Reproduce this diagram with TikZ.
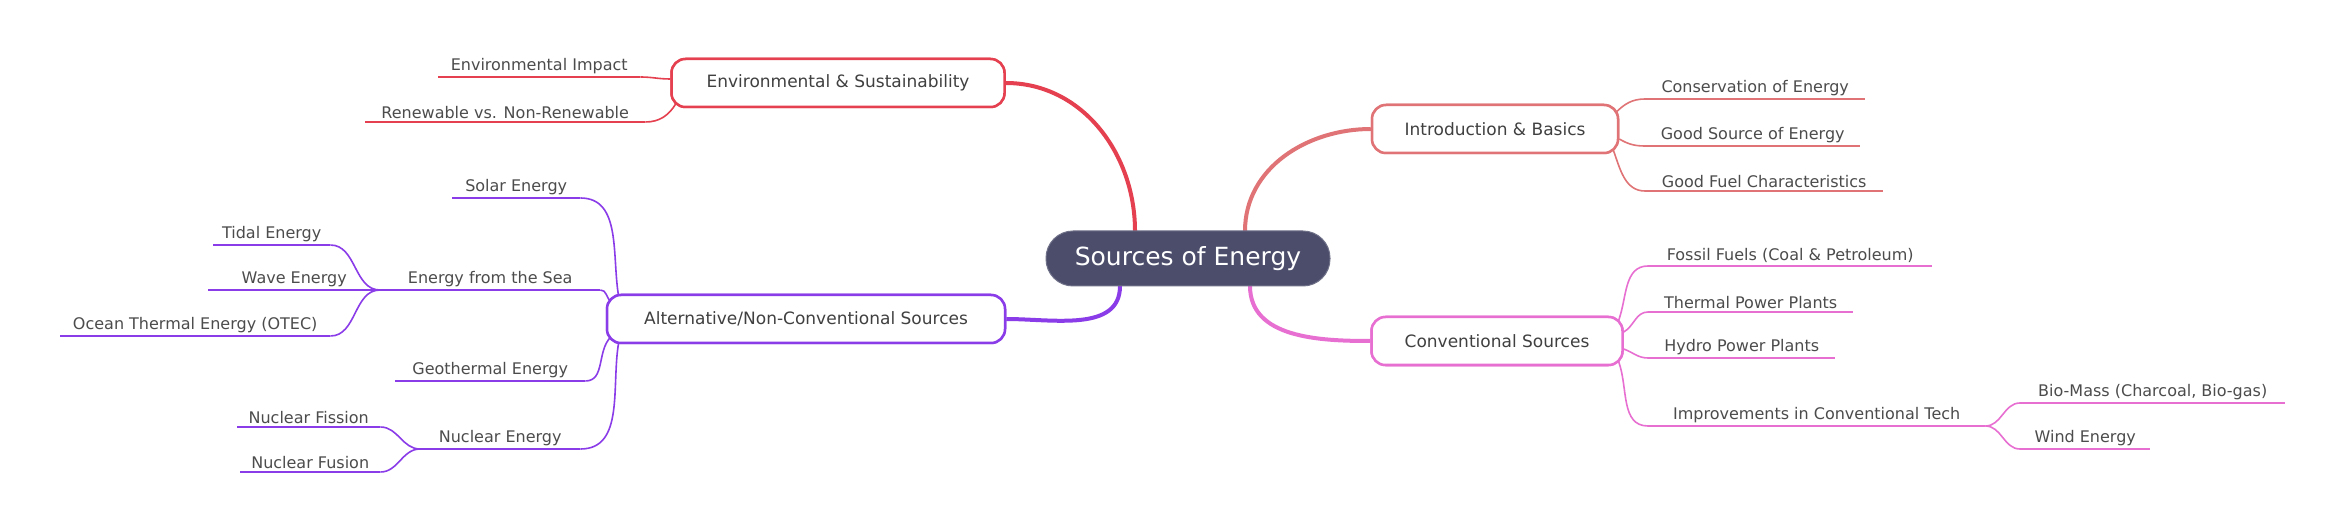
\documentclass[tikz,border=0pt]{standalone}
\usepackage{fontspec}
\setmainfont{DejaVu Sans}
\begin{document}
\begin{tikzpicture}[x=1pt,y=1pt,
  leaf/.style={minimum width=#1, inner xsep=0pt, inner ysep=3pt, anchor=south west, font=\fontsize{16}{18}\selectfont, text=black!70},
  box/.style={draw=#1, line width=2.5pt, rounded corners=14pt, fill=white, minimum height=48pt, font=\fontsize{17}{19}\selectfont, text=black!75},
  br/.style={draw=#1, line width=4pt},
  lf/.style={draw=#1, line width=1.6pt}]
\definecolor{cenv}{HTML}{E5404F}
\definecolor{cintro}{HTML}{E07375}
\definecolor{cconv}{HTML}{E86FD2}
\definecolor{calt}{HTML}{8A3CE8}
\definecolor{croot}{HTML}{4B4D6B}
\fill[white] (0,0) rectangle (2344,517);
\useasboundingbox (0,0) rectangle (2344,517);
% coordinates on root
\coordinate (rEnv) at (1135,286);
\coordinate (rIntro) at (1245,286);
\coordinate (rConv) at (1250,231);
\coordinate (rAlt) at (1120,231);
% branch boxes
\node[box=cenv, minimum width=333pt] (env) at (838,434) {Environmental \& Sustainability};
\node[box=cintro, minimum width=246pt] (intro) at (1495,388) {Introduction \& Basics};
\node[box=cconv, minimum width=251pt] (conv) at (1497,176) {Conventional Sources};
\node[box=calt, minimum width=398pt] (alt) at (806,198) {Alternative/Non-Conventional Sources};
% leaves
\node[leaf=202pt] (ei) at (438,440) {Environmental Impact};
\node[leaf=280pt] (rn) at (365,395) {Renewable vs. Non-Renewable};
\node[leaf=220pt] (ce) at (1645,418) {Conservation of Energy};
\node[leaf=215pt] (gs) at (1645,371) {Good Source of Energy};
\node[leaf=238pt] (gf) at (1645,326) {Good Fuel Characteristics};
\node[leaf=284pt] (ff) at (1648,251) {Fossil Fuels (Coal \& Petroleum)};
\node[leaf=205pt] (tp) at (1648,205) {Thermal Power Plants};
\node[leaf=187pt] (hp) at (1648,159) {Hydro Power Plants};
\node[leaf=337pt] (im) at (1648,91) {Improvements in Conventional Tech};
\node[leaf=265pt] (bm) at (2020,114) {Bio-Mass (Charcoal, Bio-gas)};
\node[leaf=130pt] (we) at (2020,68) {Wind Energy};
\node[leaf=128pt] (so) at (452,319) {Solar Energy};
\node[leaf=220pt] (se) at (380,227) {Energy from the Sea};
\node[leaf=117pt] (ti) at (213,272) {Tidal Energy};
\node[leaf=172pt] (wa) at (208,227) {Wave Energy};
\node[leaf=270pt] (ot) at (60,181) {Ocean Thermal Energy (OTEC)};
\node[leaf=190pt] (ge) at (395,136) {Geothermal Energy};
\node[leaf=160pt] (nu) at (420,68) {Nuclear Energy};
\node[leaf=143pt] (fi) at (237,90) {Nuclear Fission};
\node[leaf=140pt] (fu) at (240,45) {Nuclear Fusion};
% underlines
\foreach \n in {ei,rn}{\draw[lf=cenv] (\n.south west) -- (\n.south east);}
\foreach \n in {ce,gs,gf}{\draw[lf=cintro] (\n.south west) -- (\n.south east);}
\foreach \n in {ff,tp,hp,im,bm,we}{\draw[lf=cconv] (\n.south west) -- (\n.south east);}
\foreach \n in {so,se,ti,wa,ot,ge,nu,fi,fu}{\draw[lf=calt] (\n.south west) -- (\n.south east);}
% leaf connectors
\draw[lf=cenv] (ei.south east) to[out=0,in=180] ([yshift=4pt]env.west);
\draw[lf=cenv] (rn.south east) to[out=0,in=-120] ([xshift=6pt,yshift=-20pt]env.west);
\draw[lf=cintro] ([xshift=-4pt,yshift=16pt]intro.east) to[out=45,in=180] (ce.south west);
\draw[lf=cintro] ([yshift=-10pt]intro.east) to[out=-30,in=180] (gs.south west);
\draw[lf=cintro] ([xshift=-6pt,yshift=-21pt]intro.east) to[out=-70,in=180] (gf.south west);
\draw[lf=cconv] ([xshift=-5pt,yshift=21pt]conv.east) to[out=70,in=180] (ff.south west);
\draw[lf=cconv] ([yshift=9pt]conv.east) to[out=30,in=180] (tp.south west);
\draw[lf=cconv] ([yshift=-8pt]conv.east) to[out=-20,in=180] (hp.south west);
\draw[lf=cconv] ([xshift=-5pt,yshift=-21pt]conv.east) to[out=-70,in=180] (im.south west);
\draw[lf=cconv] (im.south east) to[out=0,in=180] (bm.south west);
\draw[lf=cconv] (im.south east) to[out=0,in=180] (we.south west);
\draw[lf=calt] (so.south east) to[out=0,in=100] ([xshift=13pt,yshift=22pt]alt.west);
\draw[lf=calt] (se.south east) to[out=0,in=135] ([xshift=5pt,yshift=17pt]alt.west);
\draw[lf=calt] (ge.south east) to[out=0,in=-135] ([xshift=5pt,yshift=-18pt]alt.west);
\draw[lf=calt] (nu.south east) to[out=0,in=-100] ([xshift=13pt,yshift=-23pt]alt.west);
\draw[lf=calt] (ti.south east) to[out=0,in=180] (se.south west);
\draw[lf=calt] (ot.south east) to[out=0,in=180] (se.south west);
\draw[lf=calt] (fi.south east) to[out=0,in=180] (nu.south west);
\draw[lf=calt] (fu.south east) to[out=0,in=180] (nu.south west);
% root branches
\draw[br=cenv] (rEnv) to[out=90,in=0] (env.east);
\draw[br=cintro] (rIntro) to[out=90,in=180] (intro.west);
\draw[br=cconv] (rConv) to[out=-90,in=180] (conv.west);
\draw[br=calt] (rAlt) to[out=-90,in=0] (alt.east);
% redraw boxes on top
\node[box=cenv, minimum width=333pt] at (env) {Environmental \& Sustainability};
\node[box=cintro, minimum width=246pt] at (intro) {Introduction \& Basics};
\node[box=cconv, minimum width=251pt] at (conv) {Conventional Sources};
\node[box=calt, minimum width=398pt] at (alt) {Alternative/Non-Conventional Sources};
\node[fill=croot, draw=croot!80!white, line width=1pt, rounded corners=27pt, minimum width=284pt, minimum height=55pt, text=white, font=\fontsize{25}{28}\selectfont] (root) at (1188,258.5) {Sources of Energy};
\end{tikzpicture}
\end{document}
